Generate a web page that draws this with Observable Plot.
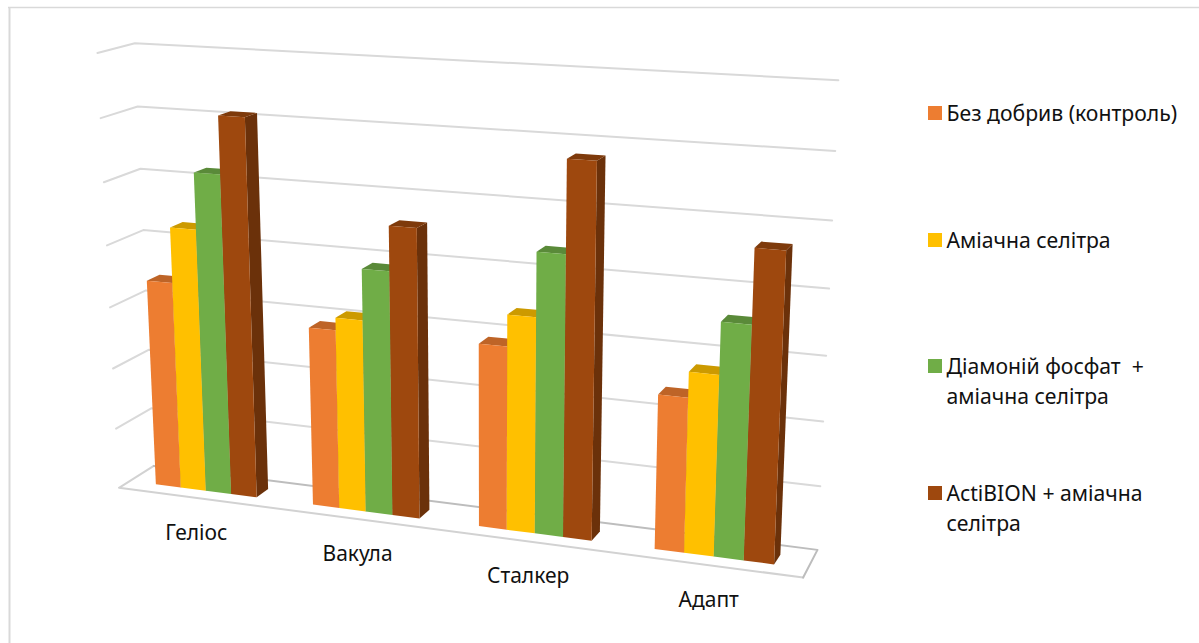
<!DOCTYPE html>
<html lang="uk">
<head>
<meta charset="utf-8">
<script src="https://cdn.jsdelivr.net/npm/d3@7"></script>
<script src="https://cdn.jsdelivr.net/npm/@observablehq/plot@0.6"></script>
<style>body{margin:0;background:#fff}text{white-space:pre}</style>
</head>
<body>
<div id="chart"></div>
<script>
const W = 1199, H = 643;
const levels = 7;
const categories = ["Геліос", "Вакула", "Сталкер", "Адапт"];
const legendLabels = [["Без добрив (контроль)"], ["Аміачна селітра"], ["Діамоній фосфат  +", "аміачна селітра"], ["ActiBION + аміачна", "селітра"]];
const seriesColors = ["#ED7D31", "#FFC000", "#70AD47", "#9E480E"];
const withoutFertilizer = [3.39, 2.885, 2.90, 2.40];
const ammoniumNitrate = [4.28, 3.085, 3.39, 2.79];
const diammonium = [5.18, 3.89, 4.38, 3.58];
const actibion = [6.09, 4.59, 5.79, 4.70];
const series = [withoutFertilizer, ammoniumNitrate, diammonium, actibion];

// Perspective camera: maps (category axis, value, depth) onto the drawing plane
const camera = [597.7077, -26.88277, 39.36988, 118.5047, 27.60637, -437.7152, -7.929434, 487.2787, -0.1076850, -0.05507847, 0.03000931];
const project = (X, v, Z) => {
  const Y = v / levels, d = camera[8] * X + camera[9] * Y + camera[10] * Z + 1;
  return {
    x: (camera[0] * X + camera[1] * Y + camera[2] * Z + camera[3]) / d,
    y: (camera[4] * X + camera[5] * Y + camera[6] * Z + camera[7]) / d
  };
};

// Bar geometry along the category axis and in depth
const groupStart = 0.17, barWidth = 0.162, zFront = 0.31, zBack = 0.67;
const barX = (i, j) => (i + groupStart + j * barWidth) / categories.length;
const wallEnd = 0.997;

// Wall gridlines, one polyline per value level
const gridRows = [];
d3.range(1, levels + 1).forEach(k => {
  [[0, 0], [0, 1], [wallEnd, 1]].forEach(([X, Z]) => gridRows.push({id: "g" + k, ...project(X, k, Z)}));
});

// Floor outline: the near edges are lighter than the far ones
const floorNear = [[0, 1], [0, 0], [1, 0]].map(([X, Z]) => project(X, 0, Z));
const floorFar = [[0, 1], [wallEnd, 1], [1, 0]].map(([X, Z]) => project(X, 0, Z));

// One polygon per visible bar face, listed in painting order
const shade = (c, f) => { const r = d3.rgb(c); return d3.rgb(r.r * f, r.g * f, r.b * f).formatHex(); };
const faces = [];
categories.forEach((_, i) => series.forEach((vals, j) => {
  const v = vals[i], x0 = barX(i, j), x1 = barX(i, j + 1), c = seriesColors[j], id = `${i}-${j}`;
  const add = (name, color, corners) => corners.forEach(([X, Y, Z]) => faces.push({id: id + name, color, ...project(X, Y, Z)}));
  add("s", shade(c, 0.68), [[x1, 0, zFront], [x1, 0, zBack], [x1, v, zBack], [x1, v, zFront]]);
  add("t", shade(c, 0.8), [[x0, v, zFront], [x0, v, zBack], [x1, v, zBack], [x1, v, zFront]]);
  add("f", c, [[x0, 0, zFront], [x1, 0, zFront], [x1, v, zFront], [x0, v, zFront]]);
}));

const categoryLabels = categories.map((name, i) => ({name, ...project((i + 0.5) / categories.length, 0, 0)}));

const legendTop = [106, 233, 359, 486];
const legendBoxes = seriesColors.map((color, j) => ({color, y1: legendTop[j], y2: legendTop[j] + 14}));
const legendLines = legendLabels.flatMap((lines, j) => lines.map((text, k) => ({text, y: legendTop[j] + 14 + k * 30})));

const fontFamily = '"Noto Sans", sans-serif';
document.getElementById("chart").append(Plot.plot({
  width: W, height: H, margin: 0,
  style: {fontFamily, background: "#fff"},
  x: {domain: [0, W], range: [0, W], axis: null},
  y: {domain: [0, H], range: [0, H], axis: null},
  color: {type: "identity"},
  marks: [
    Plot.ruleY([7], {x1: 8, x2: W, stroke: "#d9d9d9", strokeWidth: 1.5}),
    Plot.ruleX([9], {y1: 7, y2: H, stroke: "#d9d9d9", strokeWidth: 2}),
    Plot.line(gridRows, {x: "x", y: "y", z: "id", stroke: "#d9d9d9", strokeWidth: 2}),
    Plot.line(floorNear, {x: "x", y: "y", stroke: "#d2d2d2", strokeWidth: 2}),
    Plot.line(floorFar, {x: "x", y: "y", stroke: "#bdbdbd", strokeWidth: 2}),
    Plot.line(faces, {x: "x", y: "y", z: "id", fill: "color", stroke: "none"}),
    Plot.text(categoryLabels, {x: "x", y: "y", text: "name", dy: 35, fontSize: 21, fill: "#111"}),
    Plot.rect(legendBoxes, {x1: () => 928, x2: () => 942, y1: "y1", y2: "y2", fill: "color"}),
    Plot.text(legendLines, {x: () => 946, y: "y", text: "text", textAnchor: "start", lineAnchor: "bottom", fontSize: 21.2, fill: "#111"})
  ]
}));
</script>
</body>
</html>
